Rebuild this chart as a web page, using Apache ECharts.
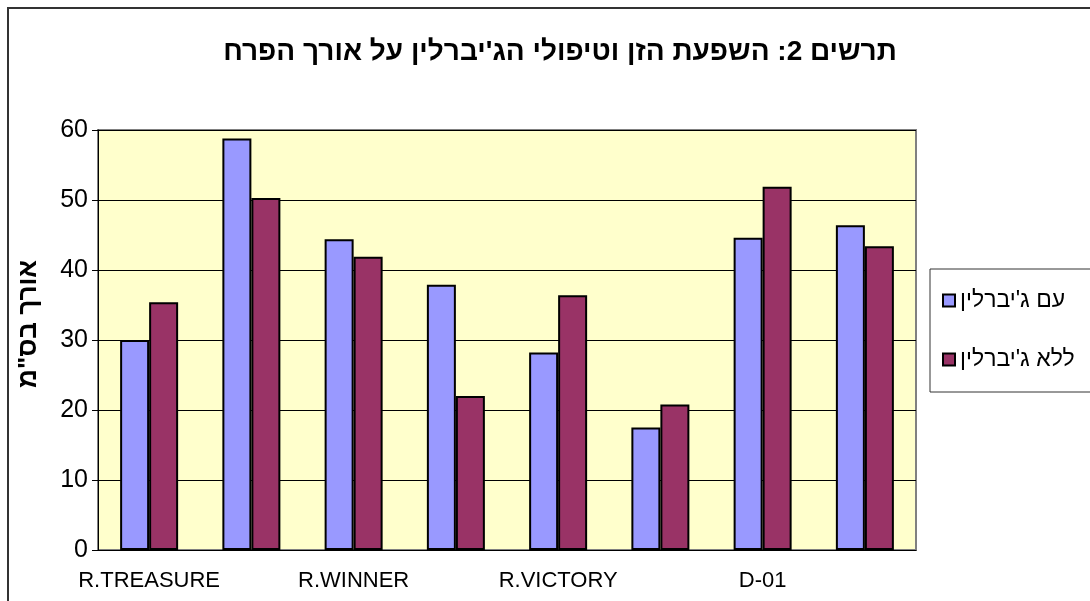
<!DOCTYPE html>
<html>
<head>
<meta charset="utf-8">
<script src="https://cdn.jsdelivr.net/npm/echarts@6/dist/echarts.min.js"></script>
<style>
  html, body { margin: 0; padding: 0; background: #fff; }
  #chart { width: 1090px; height: 601px; }
</style>
</head>
<body>
<div id="chart"></div>
<script>
// categories (only every other label is shown on the axis)
const categories = ['R.TREASURE', '', 'R.WINNER', '', 'R.VICTORY', '', 'D-01', '']
const withGibberellin = [30.0, 58.8, 44.4, 37.9, 28.2, 17.5, 44.6, 46.4]
const withoutGibberellin = [35.4, 50.3, 41.9, 22.0, 36.4, 20.8, 51.9, 43.4]
const seriesNames = ['עם ג\'יברלין', 'ללא ג\'יברלין']
const titleText = 'תרשים 2: השפעת הזן וטיפולי הג\'יברלין על אורך הפרח'
const yName = 'אורך בס"מ'

const colors = ['#9999FF', '#993366']
const font = '"Liberation Sans", Arial, sans-serif'

const chart = echarts.init(document.getElementById('chart'))

const barStyle = color => ({
  color,
  borderColor: '#000',
  borderWidth: 2
})

chart.setOption({
  animation: false,
  backgroundColor: '#fff',
  textStyle: { fontFamily: font },
  graphic: [
    {
      // outer chart frame (only top and left edges visible)
      type: 'rect',
      shape: { x: 8, y: 8, width: 1200, height: 700 },
      style: { fill: 'none', stroke: '#333', lineWidth: 2 },
      silent: true
    }
  ],
  title: {
    text: titleText,
    left: 555,
    top: 33,
    textAlign: 'center',
    textStyle: { fontFamily: font, fontSize: 28, fontWeight: 'bold', color: '#000' }
  },
  legend: {
    orient: 'vertical',
    left: 930,
    top: 269,
    padding: [20, 40, 21, 12],
    itemGap: 36,
    itemWidth: 12,
    itemHeight: 12,
    icon: 'rect',
    borderColor: '#333',
    borderWidth: 1,
    textStyle: { fontFamily: font, fontSize: 23, color: '#000' },
    data: seriesNames
  },
  grid: {
    left: 98,
    right: 174,
    top: 130,
    bottom: 51,
    show: true,
    backgroundColor: '#FFFFCC',
    borderColor: '#808080',
    borderWidth: 2
  },
  xAxis: {
    type: 'category',
    data: categories,
    axisLine: { lineStyle: { color: '#000', width: 1 } },
    axisTick: { interval: 0, length: 6, lineStyle: { color: '#000' } },
    axisLabel: {
      interval: 1,
      margin: 20,
      fontFamily: font,
      fontSize: 22,
      color: '#000'
    }
  },
  yAxis: {
    type: 'value',
    min: 0,
    max: 60,
    interval: 10,
    name: yName,
    nameLocation: 'middle',
    nameRotate: 90,
    nameGap: 56,
    nameTextStyle: {
      fontFamily: font,
      fontSize: 26,
      fontWeight: 'bold',
      color: '#000',
      padding: [0, 0, 0, 32]
    },
    axisLine: { show: true, lineStyle: { color: '#000', width: 1 } },
    axisTick: { show: true, length: 6, lineStyle: { color: '#000' } },
    axisLabel: { margin: 10, fontFamily: font, fontSize: 25, color: '#000' },
    splitLine: { lineStyle: { color: '#000', width: 1 } }
  },
  series: [
    {
      name: seriesNames[0],
      type: 'bar',
      barWidth: 29,
      barGap: '0%',
      itemStyle: barStyle(colors[0]),
      data: withGibberellin
    },
    {
      name: seriesNames[1],
      type: 'bar',
      barWidth: 29,
      barGap: '0%',
      itemStyle: barStyle(colors[1]),
      data: withoutGibberellin
    }
  ]
})
</script>
</body>
</html>
